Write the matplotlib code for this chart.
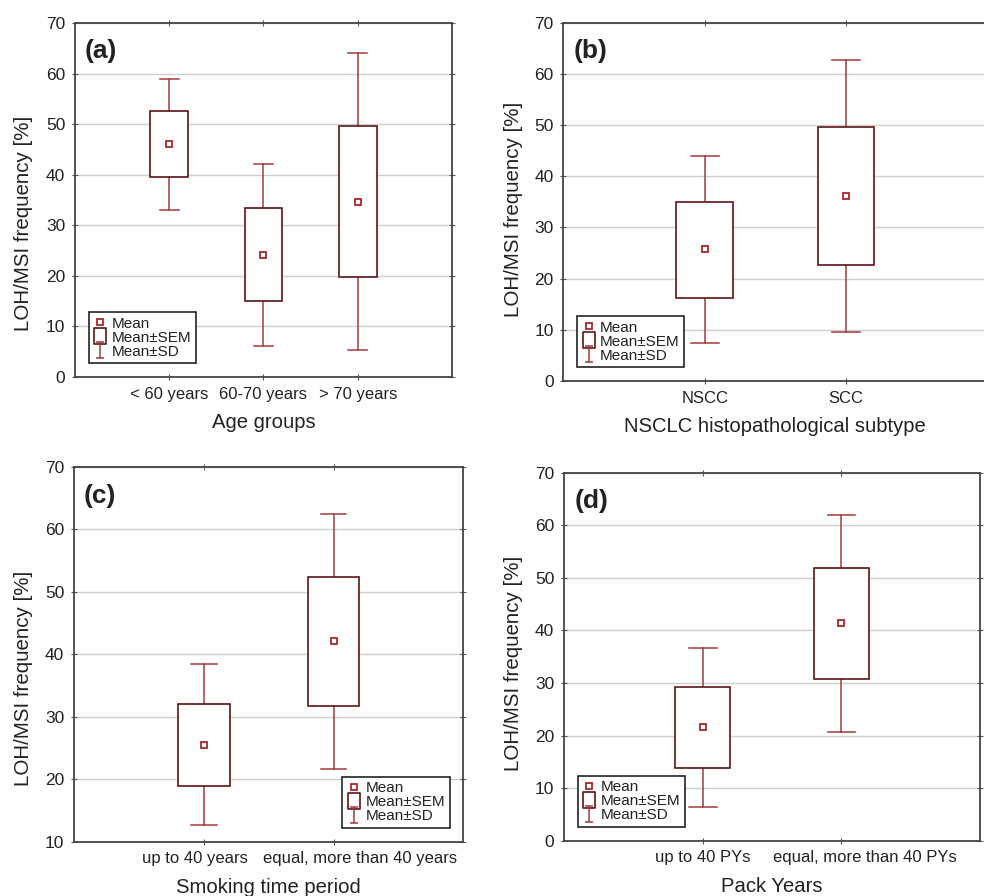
import numpy as np
import matplotlib.pyplot as plt
import matplotlib.transforms as mtransforms
from matplotlib.path import Path
from matplotlib.lines import Line2D

plt.rcParams['font.family'] = ['Liberation Sans', 'DejaVu Sans']

# (a) Age groups
a_cats = ["< 60 years", "60-70 years", "> 70 years"]
a_mean = [46.0, 24.1, 34.7]
a_sem_lo = [39.5, 15.0, 19.8]
a_sem_hi = [52.7, 33.4, 49.6]
a_sd_lo = [33.1, 6.1, 5.4]
a_sd_hi = [58.9, 42.2, 64.1]

# (b) NSCLC subtype
b_cats = ["NSCC", "SCC"]
b_mean = [25.7, 36.2]
b_sem_lo = [16.3, 22.6]
b_sem_hi = [34.9, 49.7]
b_sd_lo = [7.4, 9.6]
b_sd_hi = [43.9, 62.8]

# (c) Smoking time period
c_cats = ["up to 40 years", "equal, more than 40 years"]
c_mean = [25.5, 42.1]
c_sem_lo = [18.9, 31.7]
c_sem_hi = [32.1, 52.4]
c_sd_lo = [12.6, 21.7]
c_sd_hi = [38.4, 62.4]

# (d) Pack years
d_cats = ["up to 40 PYs", "equal, more than 40 PYs"]
d_mean = [21.6, 41.4]
d_sem_lo = [13.9, 30.8]
d_sem_hi = [29.2, 51.9]
d_sd_lo = [6.5, 20.7]
d_sd_hi = [36.6, 62.0]

BOX_C = "#5e1414"
WHISK_C = "#a33a3a"
MEAN_C = "#a82828"
TXT_C = "#222222"

# legend glyphs
i_path = Path([(-0.5, -1), (0.5, -1), (0, -1), (0, 1), (-0.5, 1), (0.5, 1)],
              [Path.MOVETO, Path.LINETO, Path.MOVETO, Path.LINETO, Path.MOVETO, Path.LINETO])
rect_path = Path([(-0.8, -1), (0.8, -1), (0.8, 1), (-0.8, 1), (-0.8, -1)],
                 [Path.MOVETO, Path.LINETO, Path.LINETO, Path.LINETO, Path.CLOSEPOLY])


def panel(ax, cats, mean, sem_lo, sem_hi, sd_lo, sd_hi, xlabel, tag, ylim, legloc,
          shifts=None, ylab_xy=(-0.1, 0.5)):
    x = np.arange(1, len(cats) + 1)
    w = 0.4
    cap = 0.1
    for xi, m, s0, s1, d0, d1 in zip(x, mean, sem_lo, sem_hi, sd_lo, sd_hi):
        ax.plot([xi, xi], [s1, d1], color=WHISK_C, lw=1.1, zorder=3)
        ax.plot([xi, xi], [d0, s0], color=WHISK_C, lw=1.1, zorder=3)
        ax.plot([xi - cap, xi + cap], [d1, d1], color=WHISK_C, lw=1.1, zorder=3)
        ax.plot([xi - cap, xi + cap], [d0, d0], color=WHISK_C, lw=1.1, zorder=3)
        ax.add_patch(plt.Rectangle((xi - w / 2, s0), w, s1 - s0, facecolor="white",
                                   edgecolor=BOX_C, lw=1.2, zorder=4))
        ax.plot([xi], [m], marker="s", ms=5, mfc="none", mec=MEAN_C, mew=1.3, zorder=5)
    ax.set_xlim(0, len(cats) + 1)
    ax.set_ylim(*ylim)
    ax.set_yticks(np.arange(ylim[0], ylim[1] + 1, 10))
    ax.set_xticks(x)
    ax.set_xticklabels(cats)
    ax.grid(axis="y", color="#cfcfcf", lw=1.0, zorder=0)
    ax.set_axisbelow(True)
    ax.tick_params(direction="inout", length=4, width=0.8, colors="#555555",
                   labelcolor=TXT_C, labelsize=12.5, top=True, right=True, pad=5)
    ax.tick_params(axis="x", labelsize=12)
    if shifts:
        for lbl, dx in zip(ax.get_xticklabels(), shifts):
            lbl.set_transform(lbl.get_transform() +
                              mtransforms.ScaledTranslation(dx / 100, 0, ax.figure.dpi_scale_trans))
    for sp in ax.spines.values():
        sp.set_color("#444444")
        sp.set_linewidth(1.3)
    ax.set_ylabel("LOH/MSI frequency [%]", fontsize=14.8, color=TXT_C)
    ax.yaxis.set_label_coords(*ylab_xy)
    ax.set_xlabel(xlabel, fontsize=14.6, color=TXT_C, labelpad=8)
    ax.text(0.025, 0.955, tag, transform=ax.transAxes, fontsize=19, fontweight="bold",
            va="top", ha="left", color=TXT_C)
    handles = [
        Line2D([], [], ls="none", marker="s", ms=5, mfc="none", mec=MEAN_C, mew=1.3),
        Line2D([], [], ls="none", marker=rect_path, ms=11, mfc="none", mec=BOX_C, mew=1.2),
        Line2D([], [], ls="none", marker=i_path, ms=11, mfc="none", mec=WHISK_C, mew=1.1),
    ]
    leg = ax.legend(handles, ["Mean", "Mean\u00b1SEM", "Mean\u00b1SD"], loc=legloc,
                    fontsize=11, frameon=True, fancybox=False, framealpha=1,
                    edgecolor="#222222", borderpad=0.3, labelspacing=0.0,
                    handlelength=0.9, handletextpad=0.3, borderaxespad=0.9)
    leg.get_frame().set_linewidth(1.2)
    for t in leg.get_texts():
        t.set_color(TXT_C)


fig = plt.figure(figsize=(9.84, 8.96), dpi=100)
ax_a = fig.add_axes([0.0762, 0.5792, 0.3831, 0.3951])
ax_b = fig.add_axes([0.5725, 0.5748, 0.4308, 0.3999])
ax_c = fig.add_axes([0.0752, 0.0606, 0.3956, 0.4185])
ax_d = fig.add_axes([0.5732, 0.0617, 0.4228, 0.4107])

panel(ax_a, a_cats, a_mean, a_sem_lo, a_sem_hi, a_sd_lo, a_sd_hi, "Age groups", "(a)", (0, 70), "lower left",
      ylab_xy=(-0.111, 0.435))
panel(ax_b, b_cats, b_mean, b_sem_lo, b_sem_hi, b_sd_lo, b_sd_hi, "NSCLC histopathological subtype", "(b)", (0, 70),
      "lower left", ylab_xy=(-0.094, 0.478))
panel(ax_c, c_cats, c_mean, c_sem_lo, c_sem_hi, c_sd_lo, c_sd_hi, "Smoking time period", "(c)", (10, 70), "lower right",
      shifts=[-9, 27], ylab_xy=(-0.105, 0.436))
panel(ax_d, d_cats, d_mean, d_sem_lo, d_sem_hi, d_sd_lo, d_sd_hi, "Pack Years", "(d)", (0, 70), "lower left",
      shifts=[0, 23], ylab_xy=(-0.099, 0.481))

fig.savefig("out.png", dpi=100)
